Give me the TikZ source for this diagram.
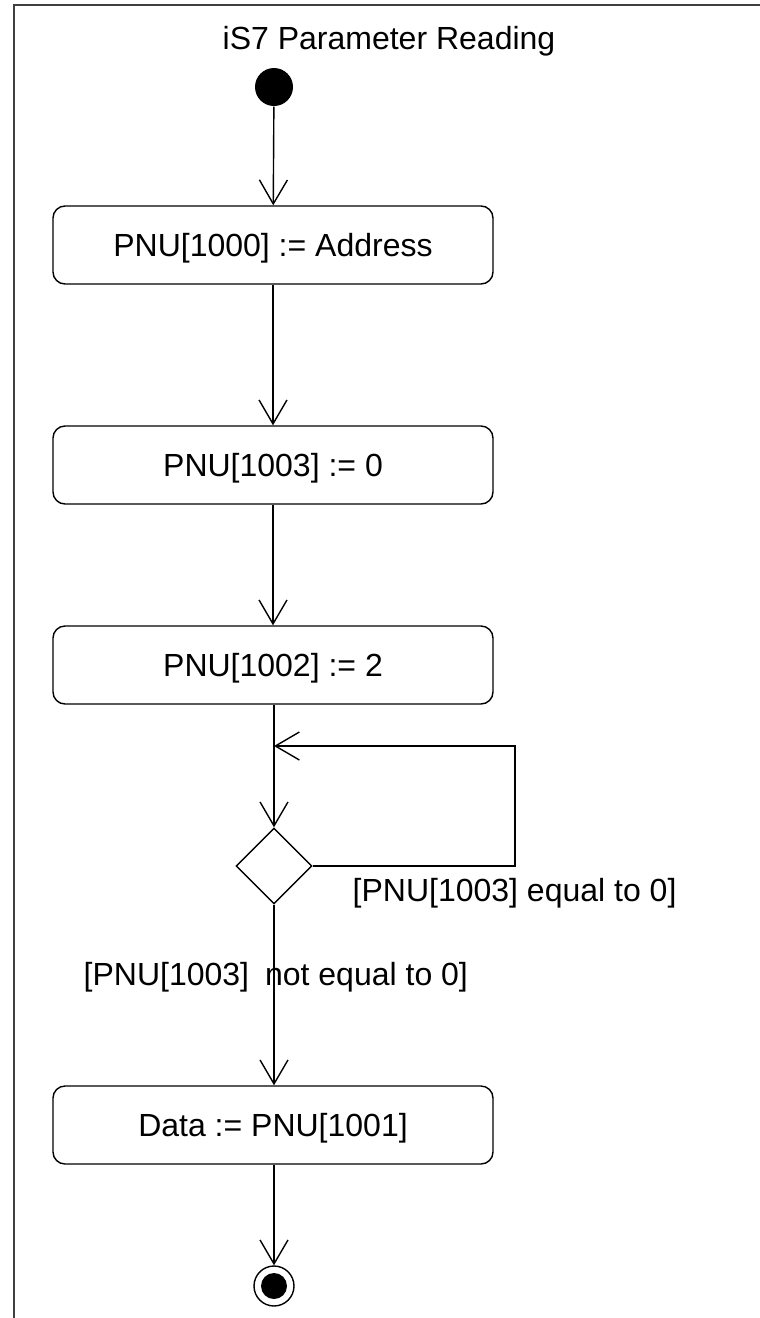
\documentclass[tikz,border=0pt]{standalone}
\usepackage{fontspec}
\setmainfont{Liberation Sans}
\usetikzlibrary{arrows.meta,shapes.geometric}
\begin{document}
\begin{tikzpicture}[x=1pt,y=-1pt,
  font=\fontsize{32}{38}\selectfont,
  line width=1.4pt,
  action/.style={draw, rounded corners=12pt, minimum width=440pt, minimum height=78pt,
    inner sep=0pt, text height=22.9pt, text depth=0pt},
  flow/.style={-{Straight Barb[length=24pt,width=28pt,line width=1.4pt]}},
  lbl/.style={anchor=base west, inner sep=0pt},
  frameline/.style={draw=black!75, line width=2.2pt}
]
\useasboundingbox (0,0) rectangle (760,1318);
\fill[white] (0,0) rectangle (760,1318);
% frame
\draw[frameline] (760,5) -- (14,5) -- (14,1318);
\node[anchor=base, inner sep=0pt] (title) at (389,49) {iS7 Parameter Reading};

% nodes
\node[circle, fill=black, minimum size=38pt, inner sep=0pt] (start) at (274,87) {};
\node[action] (b1) at (273,245) {PNU[1000] := Address};
\node[action] (b2) at (273,465) {PNU[1003] := 0};
\node[action] (b3) at (273,665) {PNU[1002] := 2};
\node[diamond, draw, aspect=1, minimum width=76pt, minimum height=76pt, inner sep=0pt] (dec) at (274,866) {};
\node[action] (b4) at (273,1125) {Data := PNU[1001]};
\node[circle, draw, minimum size=40pt, inner sep=0pt] (end) at (274,1286) {};
\fill (end.center) circle (13pt);

\coordinate (j) at (274,746);
\coordinate (lr) at (515,866);
\coordinate (ur) at (515,746);

% connectors
\draw[flow] (start) -- (b1);
\draw[flow] (b1) -- (b2);
\draw[flow] (b2) -- (b3);
\draw[flow] (b3.south -| dec.north) -- (dec.north);
\draw[flow] (dec.east) -- (lr) -- (ur) -- (j);
\draw[flow] (dec.south) -- (b4.north -| dec.south);
\draw[flow] (b4.south -| end.north) -- (end.north);

% guards
\node[lbl] (g1) at (352,901) {[PNU[1003] equal to 0]};
\node[lbl] (g2) at (83,985) {[PNU[1003]\hspace{0.5em}not equal to 0]};
\end{tikzpicture}
\end{document}
